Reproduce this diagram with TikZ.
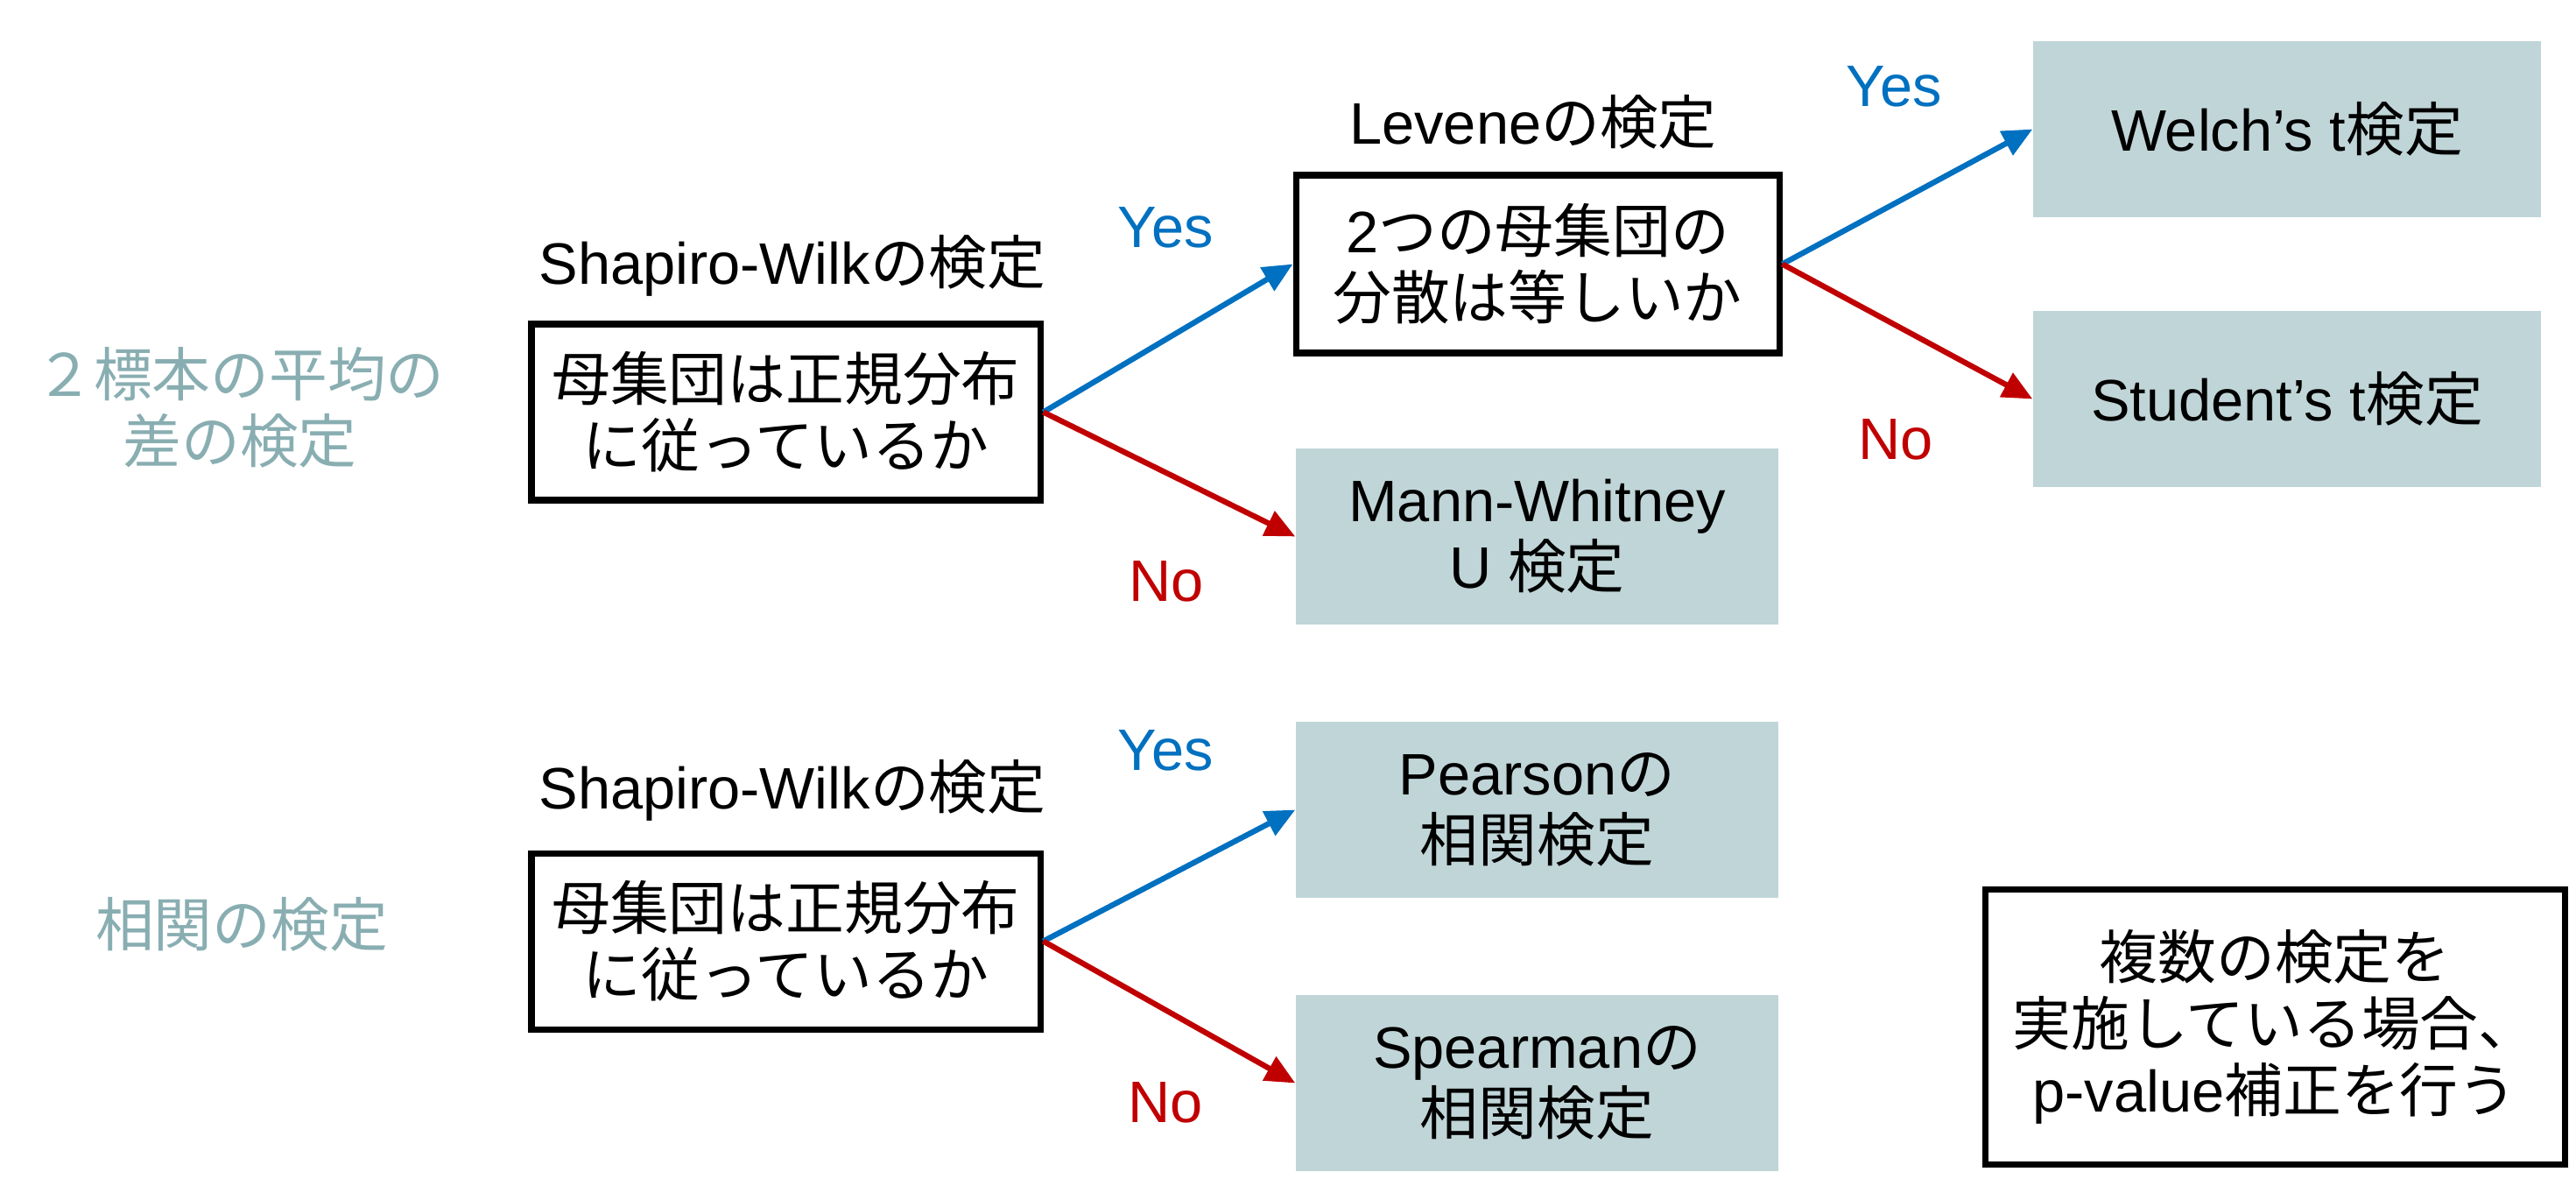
\documentclass[tikz,border=0pt]{standalone}
\usepackage{fontspec}
\setmainfont{Liberation Sans}
\newfontfamily\jp{Noto Sans CJK JP}
\usetikzlibrary{arrows.meta}
\definecolor{yesblue}{RGB}{0,112,192}
\definecolor{nored}{RGB}{192,0,0}
\definecolor{testfill}{RGB}{192,213,215}
\definecolor{grouptext}{RGB}{137,174,178}
\begin{document}
\begin{tikzpicture}[font = \fontsize{19pt}{21.6pt}\selectfont,
	jptext/.style = {font = \fontsize{19pt}{21.6pt}\selectfont\jp},
	qbox/.style = {draw, line width = 2pt, fill = white, align = center, minimum width = 5.81cm, minimum height = 2.01cm, inner sep = 0pt},
	testbox/.style = {fill = testfill, align = center, minimum width = 5.51cm, minimum height = 2.01cm, inner sep = 0pt},
	grouplabel/.style = {text = grouptext, align = center},
	yeslabel/.style = {text = yesblue},
	nolabel/.style = {text = nored},
	yesline/.style = {draw = yesblue, line width = 1.8pt, -{Triangle[length = 0.34cm, width = 0.3cm]}},
	noline/.style = {draw = nored, line width = 1.8pt, -{Triangle[length = 0.34cm, width = 0.3cm]}}]
	\path [use as bounding box, fill = white] (0, 0) rectangle (29.42, 13.61);
	\node (G1) at ( 2.74,  8.96)	[grouplabel, jptext]	{２標本の平均の\\差の検定};
	\node (G2) at ( 2.76,  3.06)	[grouplabel, jptext]	{相関の検定};
	\node (SW1) at ( 9.05, 10.58)	{Shapiro-Wilk{\jp の検定}};
	\node (A1) at ( 8.975,  8.905)	[qbox, jptext]	{母集団は正規分布\\に従っているか};
	\node (SW2) at ( 9.05,  4.59)	{Shapiro-Wilk{\jp の検定}};
	\node (A2) at ( 8.975,  2.865)	[qbox, jptext]	{母集団は正規分布\\に従っているか};
	\node (LV) at (17.51, 12.22)	{Levene{\jp の検定}};
	\node (B) at (17.56, 10.595)	[qbox, minimum width = 5.52cm, minimum height = 2.03cm]	{2{\jp つの母集団の}\\{\jp 分散は等しいか}};
	\node (MW) at (17.555,  7.485)	[testbox]	{Mann-Whitney\\U {\jp 検定}};
	\node (WE) at (26.12, 12.135)	[testbox, minimum width = 5.80cm]	{Welch’s t{\jp 検定}};
	\node (ST) at (26.12,  9.055)	[testbox, minimum width = 5.80cm]	{Student’s t{\jp 検定}};
	\node (PE) at (17.555,  4.365)	[testbox]	{Pearson{\jp の}\\{\jp 相関検定}};
	\node (SP) at (17.555,  1.245)	[testbox]	{Spearman{\jp の}\\{\jp 相関検定}};
	\node (NT) at (25.98,  1.89)	[qbox, jptext, minimum width = 6.62cm, minimum height = 3.14cm]	{複数の検定を\\実施している場合、\\{\rmfamily p-value}補正を行う};
	\node (Y1) at (13.31, 11.01)	[yeslabel]	{Yes};
	\node (N1) at (13.32,  6.97)	[nolabel]	{No};
	\node (Y2) at (21.63, 12.62)	[yeslabel]	{Yes};
	\node (N2) at (21.65,  8.59)	[nolabel]	{No};
	\node (Y3) at (13.31,  5.04)	[yeslabel]	{Yes};
	\node (N3) at (13.31,  1.02)	[nolabel]	{No};
	\draw [yesline] (A1.east) -- (B.west);
	\draw [noline] (A1.east) -- (MW.west);
	\draw [yesline] (B.east) -- (WE.west);
	\draw [noline] (B.east) -- (ST.west);
	\draw [yesline] (A2.east) -- (PE.west);
	\draw [noline] (A2.east) -- (SP.west);
\end{tikzpicture}
\end{document}
